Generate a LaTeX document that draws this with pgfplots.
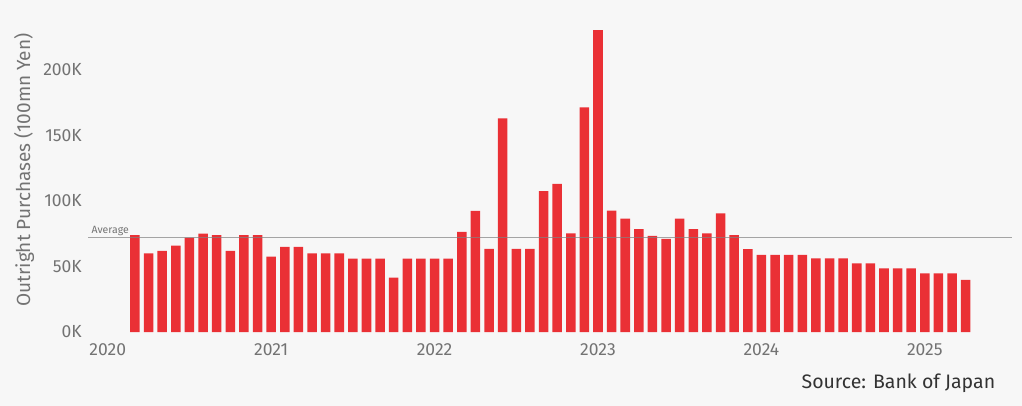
\documentclass[border=0pt]{standalone}
\usepackage{pgfplots}
\pgfplotsset{compat=1.18}
\usepackage{fontspec}
\setmainfont{Fira Sans}
\definecolor{bg}{RGB}{247,247,247}
\definecolor{barred}{RGB}{234,38,43}
\definecolor{tickgray}{RGB}{115,115,115}
\definecolor{avggray}{RGB}{130,130,130}
\begin{document}
\begin{tikzpicture}
\fill[bg] (0,0) rectangle (1022bp,406bp);
\path[use as bounding box] (0,0) rectangle (1022bp,406bp);
\begin{axis}[
  at={(88bp,74bp)}, anchor=south west,
  scale only axis, width=924bp, height=314.4bp,
  xmin=-1.45, xmax=66.4, ymin=0, ymax=240,
  axis line style={draw=none},
  tick style={draw=none},
  major tick length=0pt,
  ytick={0,50,100,150,200},
  yticklabels={0K,50K,100K,150K,200K},
  xtick={0,12,24,36,48,60},
  xticklabels={2020,2021,2022,2023,2024,2025},
  ticklabel style={font=\fontsize{17.5bp}{20bp}\selectfont, text=tickgray},
  yticklabel style={anchor=east, inner sep=0pt, xshift=-6bp},
  xticklabel style={anchor=north, inner sep=0pt, yshift=-11bp},
  clip=false,
]
\addplot[ybar, bar width=0.7, fill=barred, draw=none, fill opacity=0.95] coordinates {
(2,74) (3,60) (4,62) (5,66) (6,72) (7,75) (8,74) (9,62) (10,74) (11,74)
(12,57.5) (13,65) (14,65) (15,60) (16,60) (17,60) (18,56) (19,56) (20,56) (21,41.5)
(22,56) (23,56) (24,56) (25,56) (26,76.5) (27,92.5) (28,63.5) (29,163) (30,63.5) (31,63.5)
(32,107.5) (33,113) (34,75.3) (35,171.5) (36,230.5) (37,92.6) (38,86.5) (39,78.6) (40,73.3) (41,71)
(42,86.5) (43,78.6) (44,75.3) (45,90.6) (46,74) (47,63.3) (48,58.8) (49,58.8) (50,58.8) (51,58.8)
(52,56.2) (53,56.2) (54,56.2) (55,52.4) (56,52.4) (57,48.6) (58,48.6) (59,48.6) (60,44.8) (61,44.8)
(62,44.8) (63,39.7)
};
\addplot[avggray, line width=1.1bp, draw opacity=0.7, forget plot] coordinates {(-1.45,71.8) (66.4,71.8)};
\node[anchor=south west, inner sep=0pt, font=\fontsize{10.5bp}{12bp}\selectfont, text=tickgray] at (axis cs:-1.2,73.5) {Average};
\node[rotate=90, inner sep=0pt, font=\fontsize{19bp}{22bp}\selectfont, text=tickgray] at (rel axis cs:-0.069,0.515) {Outright Purchases (100mn Yen)};
\node[anchor=east, inner sep=0pt, font=\fontsize{19.5bp}{22bp}\selectfont, text=black!80] at (rel axis cs:0.982,-0.162) {Source: Bank of Japan};
\end{axis}
\end{tikzpicture}
\end{document}
